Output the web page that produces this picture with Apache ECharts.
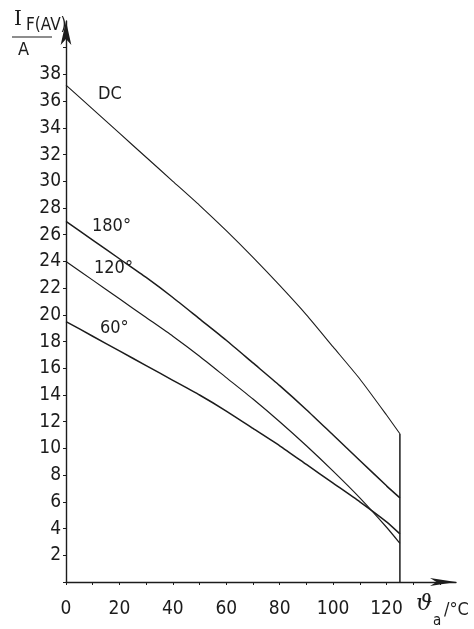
<!DOCTYPE html>
<html>
<head>
<meta charset="utf-8">
<script src="https://cdn.jsdelivr.net/npm/echarts@6/dist/echarts.min.js"></script>
<style>
  html, body { margin: 0; padding: 0; background: #ffffff; }
  #chart { width: 474px; height: 629px; }
</style>
</head>
<body>
<div id="chart"></div>
<script>
// Ambient temperature (°C) at which the forward current limits are sampled
const temps = [0, 10, 20, 30, 40, 50, 60, 70, 80, 90, 100, 110, 120, 125];

// Maximum average forward current I_F(AV) in A for each conduction angle
const dcCurrent   = [37.2, 35.4, 33.6, 31.8, 30.0, 28.2, 26.3, 24.3, 22.2, 20.0, 17.6, 15.2, 12.5, 11.1];
const deg180      = [27.0, 25.6, 24.2, 22.8, 21.3, 19.7, 18.1, 16.4, 14.7, 12.9, 11.0, 9.1, 7.2, 6.3];
const deg120      = [24.0, 22.6, 21.2, 19.8, 18.4, 16.9, 15.3, 13.7, 12.0, 10.2, 8.3, 6.3, 4.1, 2.9];
const deg60       = [19.5, 18.4, 17.3, 16.2, 15.1, 14.0, 12.8, 11.5, 10.2, 8.8, 7.4, 6.0, 4.5, 3.6];

// Curve captions
const curveNames = ['DC', '180°', '120°', '60°'];

// Axis ticks
const xLabelValues = [0, 20, 40, 60, 80, 100, 120];
const yLabelValues = [2, 4, 6, 8, 10, 12, 14, 16, 18, 20, 22, 24, 26, 28, 30, 32, 34, 36, 38];

const FONT = '"Liberation Sans Narrow", "DejaVu Sans Condensed", "Liberation Sans", sans-serif';
const INK = '#1c1c1c';

const pairs = (ys) => temps.map((t, i) => [t, ys[i]]);
const tMax = temps[temps.length - 1];

const curveStyle = (w) => ({
  type: 'line',
  smooth: 0.2,
  symbol: 'none',
  silent: true,
  lineStyle: { color: INK, width: w }
});

const chart = echarts.init(document.getElementById('chart'), null, { renderer: 'canvas' });

chart.setOption({
  animation: false,
  backgroundColor: '#ffffff',
  grid: { left: 66, right: 18, top: 21, bottom: 47, containLabel: false },
  xAxis: {
    type: 'value',
    min: 0,
    max: 146,
    interval: 10,
    axisLine: {
      show: true,
      symbol: ['none', 'arrow'],
      symbolSize: [6, 26],
      lineStyle: { color: INK, width: 1.4 }
    },
    axisTick: { show: true, inside: false, length: 3, lineStyle: { color: INK, width: 1 } },
    axisLabel: {
      margin: 18,
      fontFamily: FONT,
      fontSize: 19,
      color: INK,
      showMaxLabel: false,
      formatter: (v) => (xLabelValues.indexOf(v) >= 0 ? String(v) : '')
    },
    splitLine: { show: false }
  },
  yAxis: {
    type: 'value',
    min: 0,
    max: 42,
    interval: 2,
    axisLine: {
      show: true,
      symbol: ['none', 'arrow'],
      symbolSize: [8, 24],
      lineStyle: { color: INK, width: 1.4 }
    },
    axisTick: { show: true, inside: false, length: 3, lineStyle: { color: INK, width: 1 } },
    axisLabel: {
      margin: 5,
      fontFamily: FONT,
      fontSize: 19,
      color: INK,
      showMaxLabel: false,
      formatter: (v) => (yLabelValues.indexOf(v) >= 0 ? String(v) : '')
    },
    splitLine: { show: false }
  },
  series: [
    Object.assign({ name: curveNames[0], data: pairs(dcCurrent) }, curveStyle(1.1)),
    Object.assign({ name: curveNames[1], data: pairs(deg180) }, curveStyle(1.5)),
    Object.assign({ name: curveNames[2], data: pairs(deg120) }, curveStyle(1.2)),
    Object.assign({ name: curveNames[3], data: pairs(deg60) }, curveStyle(1.5)),
    // Cut-off at the maximum rated temperature
    {
      type: 'line',
      symbol: 'none',
      silent: true,
      data: [[tMax, 0], [tMax, dcCurrent[dcCurrent.length - 1]]],
      lineStyle: { color: INK, width: 1.5 }
    }
  ],
  graphic: [
    // Y-axis quantity: I_F(AV) / A
    { type: 'text', left: 14, top: 10, style: { text: 'I', font: '20px "DejaVu Serif", serif', fill: INK } },
    { type: 'text', left: 26, top: 17, style: { text: 'F(AV)', font: '17px ' + FONT, fill: INK } },
    { type: 'line', shape: { x1: 12, y1: 37, x2: 52, y2: 37 }, style: { stroke: INK, lineWidth: 1.2 } },
    { type: 'text', left: 18, top: 41, style: { text: 'A', font: '18px ' + FONT, fill: INK } },

    // X-axis quantity: ϑ_a / °C
    { type: 'text', left: 416, top: 593, style: { text: 'ϑ', font: 'italic 23px "DejaVu Serif", serif', fill: INK } },
    { type: 'text', left: 433, top: 614, style: { text: 'a', font: '15px ' + FONT, fill: INK } },
    { type: 'text', left: 444, top: 601, style: { text: '/°C', font: '18px ' + FONT, fill: INK } },

    // Curve captions
    { type: 'text', left: 98, top: 85, style: { text: curveNames[0], font: '18px ' + FONT, fill: INK } },
    { type: 'text', left: 92, top: 217, style: { text: curveNames[1], font: '18px ' + FONT, fill: INK } },
    { type: 'text', left: 94, top: 259, style: { text: curveNames[2], font: '18px ' + FONT, fill: INK } },
    { type: 'text', left: 100, top: 319, style: { text: curveNames[3], font: '18px ' + FONT, fill: INK } }
  ]
});
</script>
</body>
</html>
